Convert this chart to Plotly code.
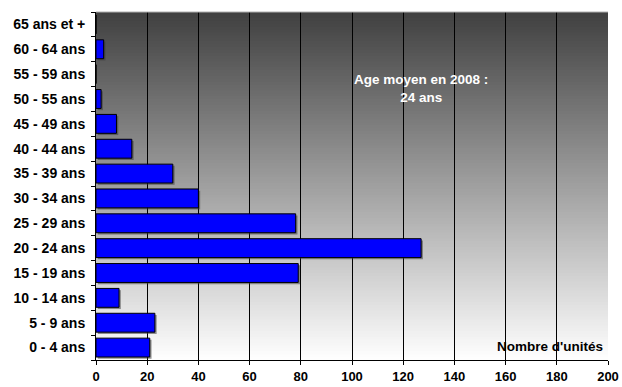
import plotly.graph_objects as go

categories = ["0 - 4 ans", "5 - 9 ans", "10 - 14 ans", "15 - 19 ans", "20 - 24 ans",
              "25 - 29 ans", "30 - 34 ans", "35 - 39 ans", "40 - 44 ans", "45 - 49 ans",
              "50 - 55 ans", "55 - 59 ans", "60 - 64 ans", "65 ans et +"]
values = [21, 23, 9, 79, 127, 78, 40, 30, 14, 8, 2, 0, 3, 0]
x_ticks = [0, 20, 40, 60, 80, 100, 120, 140, 160, 180, 200]

FONT = "Liberation Sans, Arial, sans-serif"
TF = dict(family=FONT, size=14, color="#000000", weight="bold")
XTF = dict(family=FONT, size=13, color="#000000", weight="bold")

fig = go.Figure()
# drop shadow of the bars (same data, drawn behind, shifted slightly)
fig.add_trace(go.Bar(
    y=categories, x=values, orientation="h", base=0.7,
    width=0.76, offset=-0.45,
    marker=dict(color="rgba(60,60,60,0.55)", line=dict(width=0)),
    hoverinfo="skip",
))
fig.add_trace(go.Bar(
    y=categories, x=values, orientation="h",
    width=0.76, offset=-0.38,
    marker=dict(color="#0000ff", line=dict(color="#000000", width=1)),
    hoverinfo="skip",
))

# gradient background (decoration)
shapes = []
N = 120
top = (0x40, 0x40, 0x40)
bot = (0xff, 0xff, 0xff)
for i in range(N):
    t = (i + 0.5) / N
    c = tuple(int(round(top[k] + (bot[k] - top[k]) * t)) for k in range(3))
    shapes.append(dict(type="rect", xref="x domain", yref="y domain",
                       x0=0, x1=1, y0=1 - i / N, y1=1 - (i + 1) / N - 0.002,
                       fillcolor="rgb(%d,%d,%d)" % c, line=dict(width=0), layer="below"))
shapes.append(dict(type="line", xref="x domain", yref="y domain", x0=0, x1=1, y0=1, y1=1,
                   line=dict(color="#b0b0b0", width=1)))

fig.update_layout(
    width=622, height=387,
    margin=dict(l=96, r=14, t=12, b=27),
    paper_bgcolor="white", plot_bgcolor="rgba(0,0,0,0)",
    showlegend=False,
    barmode="overlay",
    shapes=shapes,
    font=TF,
    xaxis=dict(range=[0, 200], tickvals=x_ticks, showgrid=True, gridcolor="#000000", gridwidth=1,
               showline=True, linecolor="#000000", linewidth=1,
               ticks="outside", ticklen=4, tickcolor="#000000",
               tickfont=XTF, ticklabelstandoff=0, automargin=False,
               ticklabeloverflow="allow",
               zeroline=False, fixedrange=True),
    yaxis=dict(type="category", categoryorder="array", categoryarray=categories,
               showline=True, linecolor="#000000", linewidth=1,
               ticks="outside", ticklen=4, tickcolor="#000000", tickson="boundaries",
               showgrid=False, automargin=False, ticklabelstandoff=7,
               tickfont=TF, fixedrange=True),
    annotations=[
        dict(xref="paper", yref="paper", x=0.635, y=0.78, yanchor="middle",
             text="Age moyen en 2008 :<br>24 ans",
             showarrow=False, align="center",
             font=dict(family=FONT, size=13.5, color="#ffffff", weight="bold")),
        dict(xref="paper", yref="paper", x=0.995, y=0.04, xanchor="right", yanchor="middle",
             text="Nombre d'unités",
             showarrow=False, font=dict(family=FONT, size=13.5, color="#000000", weight="bold")),
    ],
)

fig.write_html("out.html")
